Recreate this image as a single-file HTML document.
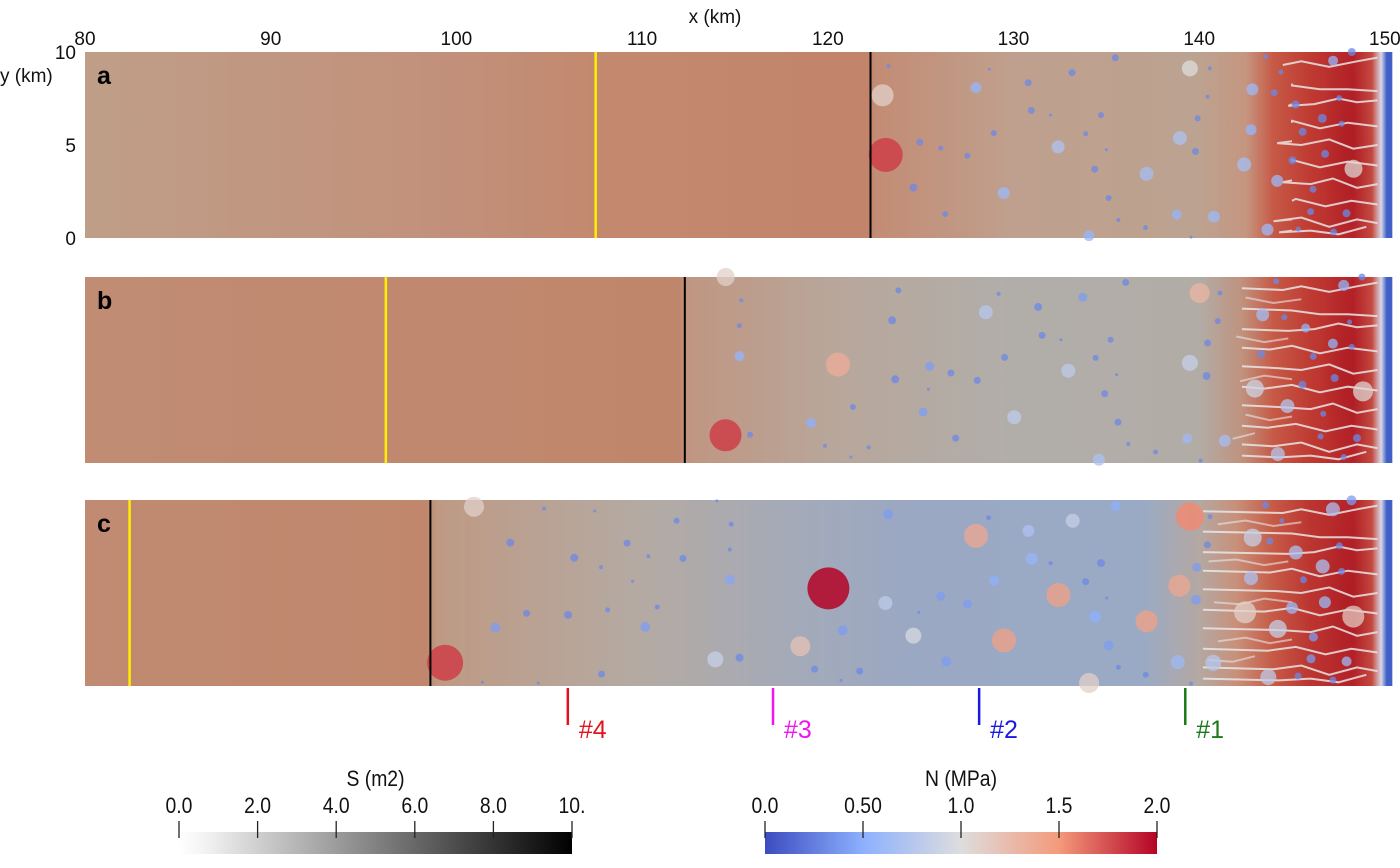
<!DOCTYPE html>
<html><head><meta charset="utf-8">
<style>
html,body{margin:0;padding:0;background:#fff;}
svg{display:block;font-family:"Liberation Sans",sans-serif;}
.tk{font-size:19px;fill:#111;}
.cb{font-size:22px;fill:#111;}
</style></head>
<body>
<svg id="chart" width="1400" height="868" viewBox="0 0 1400 868" xmlns="http://www.w3.org/2000/svg">
<defs id="defs"></defs>
<g id="axes"></g>
<g id="panels"></g>
<g id="markers"></g>
<g id="bars"></g>
</svg>
<script>
// ---------- data ----------
const xTicks = [80,90,100,110,120,130,140,150];
const yTicks = [0,5,10];
const panelLetters = ['a','b','c'];
const yellowKm = [107.5, 96.2, 82.4];
const blackKm = [122.3, 112.3, 98.6];
const markerKm = [139.25, 128.15, 117.05, 106.0];
const markerLabels = ['#1','#2','#3','#4'];
const markerColors = ['#1a7a1a','#1a1ae0','#ee16ee','#e0141c'];
const sTicks = [0,2,4,6,8,10];
const sTickLabels = ['0.0','2.0','4.0','6.0','8.0','10.'];
const nTicks = [0,0.5,1.0,1.5,2.0];
const nTickLabels = ['0.0','0.50','1.0','1.5','2.0'];
// background color profile along x (km, color)
const bgA = [[80,'#bf9e88'],[100,'#c2907a'],[107.5,'#c3896f'],[122.2,'#c2846a'],[122.6,'#c38c74'],[130,'#bfa08e'],[140,'#bca290'],[142.5,'#c59680'],[144,'#c65a46'],[146,'#bf3a32'],[148.3,'#b42228'],[149.3,'#c44a40'],[149.8,'#d8d8e6'],[150.1,'#4060c8'],[150.4,'#4060c8']];
const bgB = [[80,'#c08c74'],[112,'#c0866b'],[112.5,'#c09682'],[120,'#b8a69a'],[130,'#b1aeaa'],[140,'#b2aca6'],[142.3,'#c0927e'],[144,'#c65a46'],[146,'#bf3a32'],[148.3,'#b42228'],[149.3,'#c44a40'],[149.8,'#d8d8e6'],[150.1,'#4060c8'],[150.4,'#4060c8']];
const bgC = [[80,'#c08b72'],[98.4,'#c0876c'],[99,'#be9a84'],[110,'#b4aaa3'],[118,'#a4aab8'],[125,'#9aa8c4'],[137,'#9aaac4'],[140,'#b4a8a2'],[142,'#c8907a'],[144,'#c65a46'],[146,'#bb3530'],[148.3,'#b42228'],[149.3,'#c44a40'],[149.8,'#d8d8e6'],[150.1,'#4060c8'],[150.4,'#4060c8']];
// moulin dots: [x km, y km, radius px, N MPa]
const dotsA = [[123.27,9.25,2,0.3],[128.7,9.07,1.5,0.3],[133.15,8.89,3.5,0.3],[135.48,9.69,3.5,0.3],[139.5,9.12,8,1.0],[140.57,9.12,2,0.3],[127.98,8.08,5.5,0.55],[130.79,8.35,3.5,0.3],[122.95,7.67,11,1.1],[142.86,7.99,6,0.6],[144.04,7.81,3.5,0.3],[140.45,7.59,2,0.3],[130.96,6.86,3.5,0.3],[131.99,6.61,1.5,0.3],[134.71,6.61,3,0.3],[145.19,7.18,4,0.3],[147.54,7.52,3,0.3],[139.92,6.43,3,0.3],[146.63,6.43,4.5,0.3],[147.67,6.14,3,0.3],[142.79,5.82,5.5,0.55],[128.94,5.64,3,0.3],[133.89,5.6,2.5,0.3],[145.57,5.71,4,0.3],[138.96,5.37,7,0.7],[124.95,5.15,3.5,0.3],[123.12,4.47,17,1.8],[126.08,4.83,2.5,0.3],[132.4,4.9,6.5,0.7],[135,4.74,1.5,0.3],[139.8,4.65,3.5,0.3],[127.52,4.42,3,0.3],[146.78,4.52,4,0.3],[145.02,4.18,4,0.3],[142.42,3.95,7,0.65],[148.31,3.72,9,1.05],[134.37,3.7,3.5,0.3],[137.16,3.45,7,0.65],[124.61,2.71,4,0.3],[129.47,2.42,6,0.6],[144.2,3.07,6,0.6],[146.13,2.62,3.5,0.3],[135.12,2.15,3,0.3],[126.32,1.29,3,0.3],[138.79,1.26,5,0.55],[140.79,1.15,6,0.6],[146,1.42,3.5,0.3],[147.93,1.33,4,0.3],[135.65,0.97,2,0.3],[137.11,0.56,2.5,0.3],[143.68,0.45,6,0.6],[145.33,0.48,2.5,0.3],[147.23,0.32,3.5,0.3],[134.06,0.13,5.5,0.55],[139.56,0.05,1.5,0.3],[143.58,9.75,2.5,0.3],[148.22,10,4,0.3],[144.4,8.92,2.5,0.3],[147.21,9.53,5,0.55]];
const dotsB = [[114.5,10,9,1.1],[115.35,8.75,2,0.3],[115.24,7.38,2.5,0.3],[115.24,5.75,5,0.55],[120.55,5.29,12,1.35],[114.49,1.49,16,1.8],[115.81,1.52,3,0.3],[119.1,2.15,5,0.5],[121.35,3.01,3,0.3],[119.85,0.93,2,0.3],[122.2,0.84,2,0.3],[121.24,0.32,1.5,0.3],[123.8,9.28,3,0.3],[123.46,7.67,4,0.3],[125.48,5.2,4.5,0.4],[123.63,4.5,4,0.3],[126.63,4.84,3.5,0.3],[128.05,4.44,3.5,0.3],[125.42,3.96,1.5,0.3],[125.13,2.74,4.5,0.4],[126.89,1.34,3.5,0.3],[128.51,8.1,7,0.75],[129.2,9.09,2,0.3],[131.33,8.39,4,0.3],[133.73,8.91,4.5,0.4],[136.04,9.71,3.5,0.3],[131.54,6.86,3.5,0.3],[132.55,6.63,1.5,0.3],[135.23,6.63,3,0.3],[129.52,5.68,3.5,0.3],[134.42,5.65,3,0.3],[132.95,4.96,7,0.8],[135.55,4.75,1.5,0.3],[134.91,3.73,3.5,0.3],[130.04,2.46,7,0.8],[135.63,2.2,3.5,0.3],[136.18,1.02,2,0.3],[137.65,0.59,2.5,0.3],[134.6,0.18,6,0.7],[139.36,1.31,5,0.6],[140.08,0.13,2,0.3],[140.02,9.14,10,1.3],[141.12,9.14,2.5,0.3],[141.0,7.63,3,0.3],[140.45,6.45,3.5,0.3],[139.5,5.38,8,0.85],[140.4,4.68,4,0.3],[141.38,1.2,6,0.65],[143.0,4.0,9,0.9],[143.42,7.97,6.5,0.65],[143.34,5.86,4,0.3],[144.14,9.77,3,0.3],[144.58,7.83,3,0.3],[145.73,7.26,4.5,0.55],[144.75,3.06,7,0.75],[144.23,0.48,7,0.75],[145.56,4.21,4,0.3],[146.14,5.73,3.5,0.3],[146.68,2.65,3,0.3],[147.2,6.42,5,0.55],[147.29,4.57,4,0.3],[147.78,9.55,5.5,0.55],[148.1,7.58,2.5,0.3],[148.21,6.24,3,0.3],[148.82,3.85,10,1.05],[148.5,1.34,4,0.3],[147.78,0.32,3,0.3],[148.76,10,3.5,0.3],[146.54,1.43,3,0.3]];
const dotsC = [[100.95,9.64,10,1.1],[104.72,9.54,2,0.3],[107.45,9.41,1.5,0.3],[114.03,9.95,1.5,0.3],[111.86,8.88,3,0.3],[114.8,8.7,2.5,0.3],[123.26,9.23,5,0.4],[102.9,7.71,4,0.3],[109.19,7.68,3.5,0.3],[106.35,6.89,4,0.3],[110.34,6.98,2,0.3],[112.2,6.86,3.5,0.3],[107.79,6.38,2,0.3],[114.72,7.34,2,0.3],[114.73,5.71,5,0.45],[109.49,5.63,1.5,0.3],[120.03,5.25,21,2.05],[123.1,4.46,7,0.8],[103.78,3.91,3.5,0.3],[106.01,3.82,4,0.3],[108.15,4.09,2.5,0.3],[110.82,4.25,2.5,0.3],[102.1,3.14,5,0.4],[110.17,3.18,5,0.4],[120.8,3.0,5,0.4],[118.52,2.14,10,1.2],[113.94,1.43,8,0.85],[115.25,1.52,4,0.3],[99.39,1.25,18,1.8],[107.82,0.64,3.5,0.3],[119.29,0.91,3.5,0.3],[121.72,0.8,3.5,0.3],[120.71,0.3,1.5,0.3],[101.4,0.2,1.5,0.3],[104.41,0.16,1.5,0.3],[124.9,3.96,1.5,0.3],[128.66,9.05,2.5,0.3],[127.98,8.07,12,1.4],[130.8,8.34,6,0.7],[133.19,8.88,7,0.85],[135.5,9.68,5,0.5],[130.98,6.84,6,0.55],[132.0,6.61,2,0.3],[134.71,6.61,4,0.3],[128.97,5.66,5,0.5],[133.89,5.61,3.5,0.3],[126.08,4.82,4.5,0.4],[127.52,4.41,4.5,0.4],[132.42,4.89,12,1.45],[135.02,4.73,1.5,0.3],[134.39,3.73,6,0.5],[137.17,3.48,11,1.45],[124.61,2.71,8,0.95],[129.49,2.45,12,1.45],[135.13,2.18,5,0.4],[126.38,1.32,5,0.4],[135.65,1.0,2.5,0.3],[134.07,0.16,10,1.1],[137.12,0.61,3,0.3],[139.5,9.11,14,1.55],[138.93,5.39,11,1.4],[139.56,0.13,2,0.3],[140.58,9.11,2.5,0.3],[143.58,9.73,3.5,0.3],[144.44,8.88,2.5,0.3],[147.2,9.5,7,0.7],[148.2,9.98,5,0.4],[142.88,7.98,9,0.85],[140.44,7.59,3.5,0.3],[143.8,7.79,3.5,0.3],[147.55,7.54,3.5,0.3],[145.2,7.18,7,0.7],[139.87,6.38,4.5,0.4],[146.65,6.43,7,0.7],[147.67,6.16,3.5,0.3],[142.79,5.8,7,0.7],[145.61,5.71,3.5,0.3],[139.83,4.63,5,0.4],[142.47,3.96,11,1.1],[145.0,4.2,6,0.6],[146.77,4.5,6,0.6],[148.3,3.73,11,1.15],[144.23,3.07,9,0.85],[146.15,2.63,4.5,0.4],[138.84,1.29,7,0.6],[140.76,1.25,8,0.75],[146.02,1.46,4.5,0.4],[147.94,1.32,5,0.6],[143.72,0.48,8,0.8],[145.32,0.54,3.5,0.3],[147.2,0.32,3.5,0.3]];
// channel streaks (km coordinates)
const streaks = [
 [[144.5,9.3],[145.5,9.5],[147,9.2],[148.5,9.5],[149.6,9.7]],
 [[145,8.2],[146.5,8.0],[148,8.0],[149.6,7.9]],
 [[144.8,7.1],[146.2,7.2],[147.5,7.5],[148.5,7.3],[149.6,7.4]],
 [[143.8,6.1],[145,6.3],[146.5,5.9],[148,6.2],[149.6,6.0]],
 [[144.2,5.1],[145.5,5.0],[147,5.3],[148.3,4.8],[149.6,5.0]],
 [[143.5,4.0],[145,4.2],[146.5,3.8],[148,4.1],[149.6,3.9]],
 [[144.5,3.0],[146,2.9],[147.2,3.2],[148.5,2.7],[149.6,2.9]],
 [[143.7,1.9],[145.2,2.1],[146.8,1.7],[148.2,2.0],[149.6,1.8]],
 [[144,0.9],[145.5,1.1],[147,0.6],[148.5,1.0],[149.6,0.8]],
 [[144.3,0.3],[146,0.4],[147.5,0.2],[149,0.6]]
];
const streakStartKm = [145, 142.3, 140.2];
const extraStreaks = [
 [[141,8.7],[142.5,8.9],[144,8.6],[145.5,8.8]],
 [[140.5,6.7],[142,6.8],[143.5,6.5],[144.8,6.7]],
 [[140.8,4.5],[142.2,4.4],[143.5,4.7],[145,4.5]],
 [[141,2.4],[142.5,2.6],[143.8,2.3],[145,2.5]],
 [[140.5,1.4],[141.8,1.3],[143,1.6]]
];

// ---------- helpers ----------
const NS='http://www.w3.org/2000/svg';
const X0=85, PXKM=18.57, PH=186;
const panelTops=[52,277,500];
const xs = km => X0 + (km-80)*PXKM;
const ys = (top,y) => top + (10-y)*(PH/10);
function mk(tag, parent, attrs){const e=document.createElementNS(NS,tag);for(const k in attrs)e.setAttribute(k,attrs[k]);parent.appendChild(e);return e;}
const cw=[[0,[59,76,192]],[0.25,[141,176,254]],[0.5,[221,221,221]],[0.75,[244,154,123]],[1,[180,4,38]]];
function coolwarm(t){t=Math.max(0,Math.min(1,t));for(let i=1;i<cw.length;i++){if(t<=cw[i][0]){const a=cw[i-1],b=cw[i],f=(t-a[0])/(b[0]-a[0]);return 'rgb('+a[1].map((v,j)=>Math.round(v+(b[1][j]-v)*f)).join(',')+')';}}return 'rgb(180,4,38)';}
const nColor = n => coolwarm(n/2.0);

const svg=document.getElementById('chart');
const defs=document.getElementById('defs');
const axes=document.getElementById('axes');
const panels=document.getElementById('panels');

// axes labels
let t=mk('text',axes,{x:715,y:23,'text-anchor':'middle',class:'tk','font-size':'21'});


t.textContent='x (km)';
xTicks.forEach(v=>{
  const e=mk('text',axes,{x:xs(v),y:45,'text-anchor':'middle',class:'tk'});
  
  
  e.textContent=v;
});
t=mk('text',axes,{x:0,y:82,class:'tk','font-size':'20'});


t.textContent='y (km)';
yTicks.forEach(v=>{
  const e=mk('text',axes,{x:76,y:ys(52,v)+7,'text-anchor':'end',class:'tk'});
  
  
  e.textContent=v;
});

// panels
const bgs=[bgA,bgB,bgC];
const dotsets=[dotsA,dotsB,dotsC];
const x1=xs(150.4);
panelTops.forEach((top,pi)=>{
  const g=mk('g',panels,{});
  
  
  const gr=mk('linearGradient',defs,{id:'bg'+pi,x1:X0,x2:x1,y1:0,y2:0,gradientUnits:'userSpaceOnUse'});
  bgs[pi].forEach(s=>mk('stop',gr,{offset:((xs(s[0])-X0)/(x1-X0)).toFixed(4),'stop-color':s[1]}));
  const r=mk('rect',g,{x:X0,y:top,width:x1-X0,height:PH,fill:'url(#bg'+pi+')'});
  
  
  const rg=mk('radialGradient',defs,{id:'core'+pi,cx:'0.5',cy:'0.5',r:'0.5'});
  mk('stop',rg,{offset:'0','stop-color':'#a01018','stop-opacity':'0.3'});
  mk('stop',rg,{offset:'1','stop-color':'#a01018','stop-opacity':'0'});
  mk('rect',g,{x:xs(146.5),y:top,width:xs(149.5)-xs(146.5),height:PH,fill:'url(#core'+pi+')'});
  // streaks
  const sg=mk('g',g,{fill:'none',stroke:'#e8e6e6','stroke-width':'2','stroke-opacity':'0.85'});
  
  
  streaks.forEach(s=>{
    const pts=[[streakStartKm[pi],s[0][1]+0.1]].concat(s.filter(p=>p[0]>=streakStartKm[pi]-1));
    const pl=mk('polyline',sg,{points:pts.map(p=>xs(p[0]).toFixed(1)+','+ys(top,p[1]).toFixed(1)).join(' ')});
    
    
  });
  if(pi>0){extraStreaks.forEach(s=>{
    const pts=s.filter(p=>p[0]>=streakStartKm[pi]-0.5);
    if(pts.length<2)return;
    const pl=mk('polyline',sg,{points:pts.map(p=>xs(p[0]).toFixed(1)+','+ys(top,p[1]).toFixed(1)).join(' '),'stroke-opacity':'0.6'});
    
    
  });}
  // dots
  const dg=mk('g',g,{});
  
  
  dotsets[pi].forEach(d=>{
    const c=mk('circle',dg,{cx:xs(d[0]).toFixed(1),cy:ys(top,d[1]).toFixed(1),r:d[2],fill:nColor(d[3]),'fill-opacity':d[3]>1.5?'0.85':'0.75'});
    
    
  });
  let l=mk('line',g,{x1:xs(yellowKm[pi]),x2:xs(yellowKm[pi]),y1:top,y2:top+PH,stroke:'#ffee00','stroke-width':'2.5'});
  
  
  l=mk('line',g,{x1:xs(blackKm[pi]),x2:xs(blackKm[pi]),y1:top,y2:top+PH,stroke:'#000','stroke-width':'2'});
  
  
  const lt=mk('text',g,{x:97,y:top+32,'font-size':'25','font-weight':'bold',fill:'#000'});
  
  
  lt.textContent=panelLetters[pi];
});

// station markers below panel c
const mg=document.getElementById('markers');
markerKm.forEach((k,i)=>{
  const x=xs(k);
  const l=mk('line',mg,{x1:x,x2:x,y1:688,y2:725,stroke:markerColors[i],'stroke-width':'2.5'});
  
  
  const e=mk('text',mg,{x:x+11,y:738,'font-size':'25',fill:markerColors[i]});
  
  
  e.textContent=markerLabels[i];
});

// colorbars
const bg=document.getElementById('bars');
const SX=0.88;
function colorbar(name,title,x0,x1,ticks,labels,vmax,grad){
  const g=mk('g',bg,{});
  
  
  const r=mk('rect',g,{x:x0,y:832,width:x1-x0,height:22,fill:grad});
  
  
  const cx=(x0+x1)/2;
  const tt=mk('text',g,{x:cx/SX,y:786,'text-anchor':'middle',class:'cb',transform:'scale('+SX+',1)'});
  
  
  tt.textContent=title;
  ticks.forEach((v,i)=>{
    const x=x0+(x1-x0)*v/vmax;
    const l=mk('line',g,{x1:x,x2:x,y1:821,y2:838,stroke:'#222','stroke-width':'1.3'});
    
    
    const e=mk('text',g,{x:x/SX,y:813,'text-anchor':'middle',class:'cb',transform:'scale('+SX+',1)'});
    
    
    e.textContent=labels[i];
  });
}
const sg=mk('linearGradient',defs,{id:'sgrad',x1:'0',x2:'1',y1:'0',y2:'0'});
mk('stop',sg,{offset:'0','stop-color':'#ffffff'});
mk('stop',sg,{offset:'0.06','stop-color':'#f4f4f4'});
mk('stop',sg,{offset:'1','stop-color':'#000000'});
const ng=mk('linearGradient',defs,{id:'ngrad',x1:'0',x2:'1',y1:'0',y2:'0'});
cw.forEach(s=>mk('stop',ng,{offset:s[0],'stop-color':'rgb('+s[1].join(',')+')'}));
colorbar('s-colorbar','S (m2)',179,572,sTicks,sTickLabels,10,'url(#sgrad)');
colorbar('n-colorbar','N (MPa)',765,1157,nTicks,nTickLabels,2.0,'url(#ngrad)');
</script>
</body></html>
